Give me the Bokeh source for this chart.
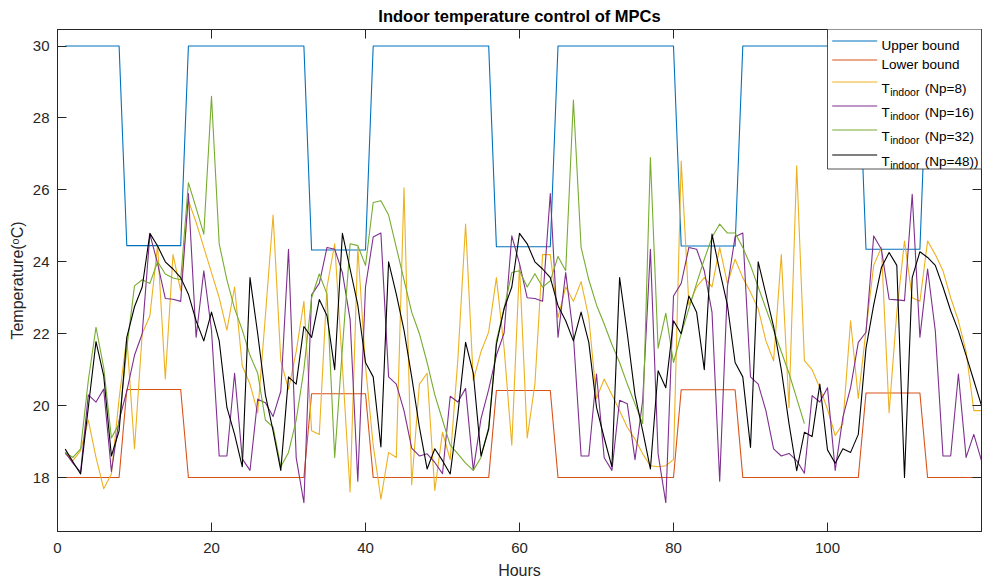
from bokeh.plotting import figure
from bokeh.models import (Range1d, LinearAxis, FixedTicker, CustomJSTickFormatter,
                          BoxAnnotation, Label, Arrow)
from bokeh.embed import file_html
from bokeh.resources import INLINE

# ---------------- data ----------------
hours = list(range(1, 121))

upper_bound = [30, 30, 30, 30, 30, 30, 30, 30,
               24.45, 24.45, 24.45, 24.45, 24.45, 24.45, 24.45, 24.45,
               30, 30, 30, 30, 30, 30, 30, 30, 30, 30, 30, 30, 30, 30, 30, 30,
               24.33, 24.33, 24.33, 24.33, 24.33, 24.33, 24.33, 24.33,
               30, 30, 30, 30, 30, 30, 30, 30, 30, 30, 30, 30, 30, 30, 30, 30,
               24.42, 24.42, 24.42, 24.42, 24.42, 24.42, 24.42, 24.42,
               30, 30, 30, 30, 30, 30, 30, 30, 30, 30, 30, 30, 30, 30, 30, 30,
               24.44, 24.44, 24.44, 24.44, 24.44, 24.44, 24.44, 24.44,
               30, 30, 30, 30, 30, 30, 30, 30, 30, 30, 30, 30, 30, 30, 30, 30,
               24.35, 24.35, 24.35, 24.35, 24.35, 24.35, 24.35, 24.35,
               30, 30, 30, 30, 30, 30, 30, 30]

lower_bound = [18, 18, 18, 18, 18, 18, 18, 18,
               20.45, 20.45, 20.45, 20.45, 20.45, 20.45, 20.45, 20.45,
               18, 18, 18, 18, 18, 18, 18, 18, 18, 18, 18, 18, 18, 18, 18, 18,
               20.33, 20.33, 20.33, 20.33, 20.33, 20.33, 20.33, 20.33,
               18, 18, 18, 18, 18, 18, 18, 18, 18, 18, 18, 18, 18, 18, 18, 18,
               20.42, 20.42, 20.42, 20.42, 20.42, 20.42, 20.42, 20.42,
               18, 18, 18, 18, 18, 18, 18, 18, 18, 18, 18, 18, 18, 18, 18, 18,
               20.44, 20.44, 20.44, 20.44, 20.44, 20.44, 20.44, 20.44,
               18, 18, 18, 18, 18, 18, 18, 18, 18, 18, 18, 18, 18, 18, 18, 18,
               20.35, 20.35, 20.35, 20.35, 20.35, 20.35, 20.35, 20.35,
               18, 18, 18, 18, 18, 18, 18, 18]

t_np8 = [18.66, 18.47, 18.75, 19.60, 18.56, 17.69, 18.10, 20.20, 21.90, 18.80,
         22.00, 22.50, 24.47, 20.74, 24.20, 23.20, 25.70, 25.10, 24.40, 23.70,
         23.00, 22.10, 23.30, 21.10, 20.60, 19.80, 22.50, 25.30, 21.25, 20.45,
         21.50, 22.90, 19.30, 19.20, 23.30, 24.50, 21.10, 17.60, 24.40, 21.10,
         18.90, 17.40, 18.70, 18.56, 26.06, 17.80, 20.60, 20.90, 17.64, 19.26,
         18.50, 21.30, 25.05, 20.70, 21.50, 22.05, 23.56, 21.60, 18.90, 23.90,
         19.10, 20.60, 24.20, 24.20, 22.45, 23.30, 22.90, 23.45, 22.45, 20.20,
         20.74, 20.30, 19.86, 19.40, 19.07, 18.66, 18.33, 18.30, 18.33, 18.50,
         26.80, 22.80, 23.30, 23.56, 23.30, 24.40, 23.40, 24.07, 23.56, 23.15,
         22.70, 21.80, 21.25, 24.20, 19.95, 26.67, 21.25, 21.00, 20.50, 19.90,
         19.17, 19.50, 22.36, 20.20, 22.10, 23.90, 24.40, 19.80, 22.60, 24.58,
         23.00, 22.90, 24.58, 24.20, 23.75, 23.00, 22.36, 21.50, 19.86, 19.86]

t_np16 = [18.70, 18.40, 18.15, 20.30, 20.10, 20.46, 18.17, 19.60, 20.40, 21.40,
          22.00, 24.77, 23.95, 22.98, 22.96, 22.90, 25.90, 21.90, 23.75, 22.10,
          18.60, 18.60, 20.90, 18.52, 18.20, 20.18, 20.08, 19.70, 20.40, 24.35,
          18.55, 17.30, 23.08, 23.40, 24.40, 24.35, 23.70, 22.40, 17.90, 23.30,
          24.69, 24.80, 20.80, 20.60, 19.86, 18.82, 18.60, 18.66, 18.42, 18.11,
          20.26, 20.10, 20.48, 18.20, 19.64, 20.45, 21.40, 22.02, 24.72, 23.95,
          23.00, 22.98, 22.90, 25.90, 21.90, 23.70, 21.95, 18.60, 18.60, 20.88,
          18.55, 18.20, 20.15, 20.05, 18.50, 20.15, 24.35, 18.66, 17.30, 23.05,
          23.40, 24.40, 24.35, 23.75, 22.60, 17.90, 23.30, 24.70, 24.80, 20.80,
          20.60, 19.86, 18.80, 18.60, 18.67, 18.47, 18.12, 20.28, 20.10, 20.50,
          18.20, 19.68, 20.50, 21.76, 22.04, 24.72, 24.35, 22.96, 22.94, 22.92,
          25.88, 21.90, 23.80, 22.08, 18.60, 18.60, 20.88, 18.56, 19.20, 18.47]

t_np32 = [18.70, 18.56, 18.80, 20.70, 22.18, 21.06, 19.10, 19.50, 21.60, 23.33,
          23.50, 23.40, 24.00, 23.66, 23.55, 23.50, 26.20, 25.50, 24.77, 28.60,
          24.50, 23.50, 22.70, 22.10, 21.40, 20.90, 19.60, 19.40, 18.30, 18.70,
          19.60, 21.00, 23.00, 23.66, 23.10, 18.56, 21.60, 24.50, 24.45, 23.90,
          25.65, 25.70, 25.30, 24.40, 23.50, 22.60, 22.00, 21.20, 20.30, 19.60,
          18.90, 18.66, 18.40, 18.20, 18.56, 19.40, 21.80, 22.70, 23.70, 23.75,
          23.30, 23.67, 23.30, 23.47, 24.15, 23.75, 28.50, 24.40, 23.50, 22.80,
          22.27, 21.70, 21.20, 20.60, 20.05, 19.50, 26.90, 21.60, 22.57, 21.20,
          22.00, 22.70, 23.40, 24.07, 24.68, 25.05, 24.80, 24.80, 24.40, 23.90,
          23.30, 22.70, 22.10, 21.50, 20.90, 20.20, 19.50]
hours_np32 = hours[:len(t_np32)]

t_np48 = [18.79, 18.44, 18.10, 19.95, 21.78, 20.83, 18.60, 19.30, 21.90, 22.75,
          23.30, 24.79, 24.44, 24.00, 23.80, 23.56, 23.10, 22.36, 21.80, 22.60,
          21.80, 19.95, 19.20, 18.30, 23.56, 22.00, 20.30, 19.30, 18.20, 20.80,
          20.60, 22.20, 21.90, 22.95, 22.50, 21.00, 24.79, 23.80, 22.80, 21.20,
          20.80, 18.85, 24.00, 23.10, 22.10, 20.80, 19.40, 18.24, 18.80, 18.47,
          18.10, 19.77, 21.76, 20.90, 18.60, 19.35, 21.70, 22.70, 23.30, 24.79,
          24.50, 24.00, 23.80, 23.56, 22.78, 22.36, 21.80, 22.60, 21.76, 19.95,
          19.10, 18.30, 23.56, 22.00, 20.30, 19.30, 18.24, 20.97, 20.50, 22.36,
          22.00, 23.05, 22.60, 21.00, 24.77, 23.75, 22.80, 21.20, 20.80, 18.84,
          24.00, 23.10, 22.20, 21.00, 19.50, 18.19, 19.26, 19.14, 20.60, 18.77,
          18.40, 18.80, 18.70, 19.20, 21.60, 22.80, 23.84, 24.26, 23.90, 18.00,
          23.56, 24.28, 24.12, 23.90, 23.30, 22.64, 22.08, 21.40, 20.70, 20.00]

x_ticks = [0, 20, 40, 60, 80, 100]
y_ticks = [18, 20, 22, 24, 26, 28, 30]

series_labels = ["Upper bound", "Lower bound", "(Np=8)", "(Np=16)", "(Np=32)", "(Np=48))"]
colors = ["#0072BD", "#D95319", "#EDB120", "#7E2F8E", "#77AC30", "#000000"]

# ---------------- figure ----------------
FONT = "Liberation Sans"
AX = "#262626"

p = figure(width=982, height=583, output_backend="svg", toolbar_location=None,
           x_range=Range1d(0, 120), y_range=Range1d(16.5, 30.46),
           min_border_left=57, min_border_right=1, min_border_top=28,
           min_border_bottom=52, background_fill_color="white",
           border_fill_color="white")
p.grid.visible = False
p.outline_line_color = AX
p.outline_line_width = 1

p.title.text = "Indoor temperature control of MPCs"
p.title.align = "center"
p.title.text_font = FONT
p.title.text_font_size = "16.5px"
p.title.text_font_style = "bold"
p.title.text_color = "#000000"
p.title.standoff = 9


def style_axis(ax, ticks, show_labels=True):
    ax.ticker = FixedTicker(ticks=ticks)
    ax.minor_tick_line_color = None
    ax.major_tick_in = 9
    ax.major_tick_out = 0
    ax.axis_line_color = AX
    ax.major_tick_line_color = AX
    ax.major_label_text_font = FONT
    ax.major_label_text_font_size = "15px"
    ax.major_label_text_color = AX
    ax.axis_label_text_font = FONT
    ax.axis_label_text_font_size = "16px"
    ax.axis_label_text_font_style = "normal"
    ax.axis_label_text_color = AX
    if not show_labels:
        ax.formatter = CustomJSTickFormatter(code="return ''")
        ax.major_label_standoff = 0
        ax.major_label_text_font_size = "0px"


xa = p.xaxis[0]
style_axis(xa, x_ticks)
xa.axis_label = "Hours"
xa.major_label_standoff = 11
xa.axis_label_standoff = 6

ya = p.yaxis[0]
style_axis(ya, y_ticks)
ya.axis_label = "Temperature(ᵒC)"
ya.major_label_standoff = 8
ya.axis_label_standoff = 4

top_axis = LinearAxis()
style_axis(top_axis, x_ticks, show_labels=False)
p.add_layout(top_axis, "above")
right_axis = LinearAxis()
style_axis(right_axis, y_ticks, show_labels=False)
p.add_layout(right_axis, "right")

# ---------------- lines ----------------
line_kw = dict(line_width=1.1, line_join="round")
p.line(hours, upper_bound, line_color=colors[0], **line_kw)
p.line(hours, lower_bound, line_color=colors[1], **line_kw)
p.line(hours, t_np8, line_color=colors[2], **line_kw)
p.line(hours, t_np16, line_color=colors[3], **line_kw)
p.line(hours_np32, t_np32, line_color=colors[4], **line_kw)
p.line(hours, t_np48, line_color=colors[5], **line_kw)

# ---------------- legend (frame-relative screen units, y up) ----------------
p.add_layout(BoxAnnotation(left=770, right=924, top=503, bottom=362.5,
                           left_units="screen", right_units="screen",
                           top_units="screen", bottom_units="screen",
                           fill_color="white", fill_alpha=1.0,
                           line_color=AX, line_width=0.8, line_alpha=1.0))

row_y = [490.5, 471.5, 449.5, 425.5, 401.5, 376.5]
for i, (lab, col) in enumerate(zip(series_labels, colors)):
    y = row_y[i]
    p.add_layout(Arrow(end=None, x_start=774.7, x_end=819.7, y_start=y, y_end=y,
                       start_units="screen", end_units="screen",
                       line_color=col, line_width=1.1))
    if i < 2:
        p.add_layout(Label(x=824, y=y - 4.7, x_units="screen", y_units="screen",
                           text=lab, text_font=FONT, text_font_size="13.5px",
                           text_baseline="alphabetic", text_color="#000000"))
    else:
        p.add_layout(Label(x=824, y=y - 6.6, x_units="screen", y_units="screen",
                           text="T", text_font=FONT, text_font_size="13.5px",
                           text_baseline="alphabetic", text_color="#000000"))
        p.add_layout(Label(x=832.7, y=y - 10.0, x_units="screen", y_units="screen",
                           text="indoor", text_font=FONT, text_font_size="10.5px",
                           text_baseline="alphabetic", text_color="#000000"))
        p.add_layout(Label(x=867.3, y=y - 6.6, x_units="screen", y_units="screen",
                           text=lab, text_font=FONT, text_font_size="13.5px",
                           text_baseline="alphabetic", text_color="#000000"))

open("out.html", "w").write(file_html(p, INLINE))
